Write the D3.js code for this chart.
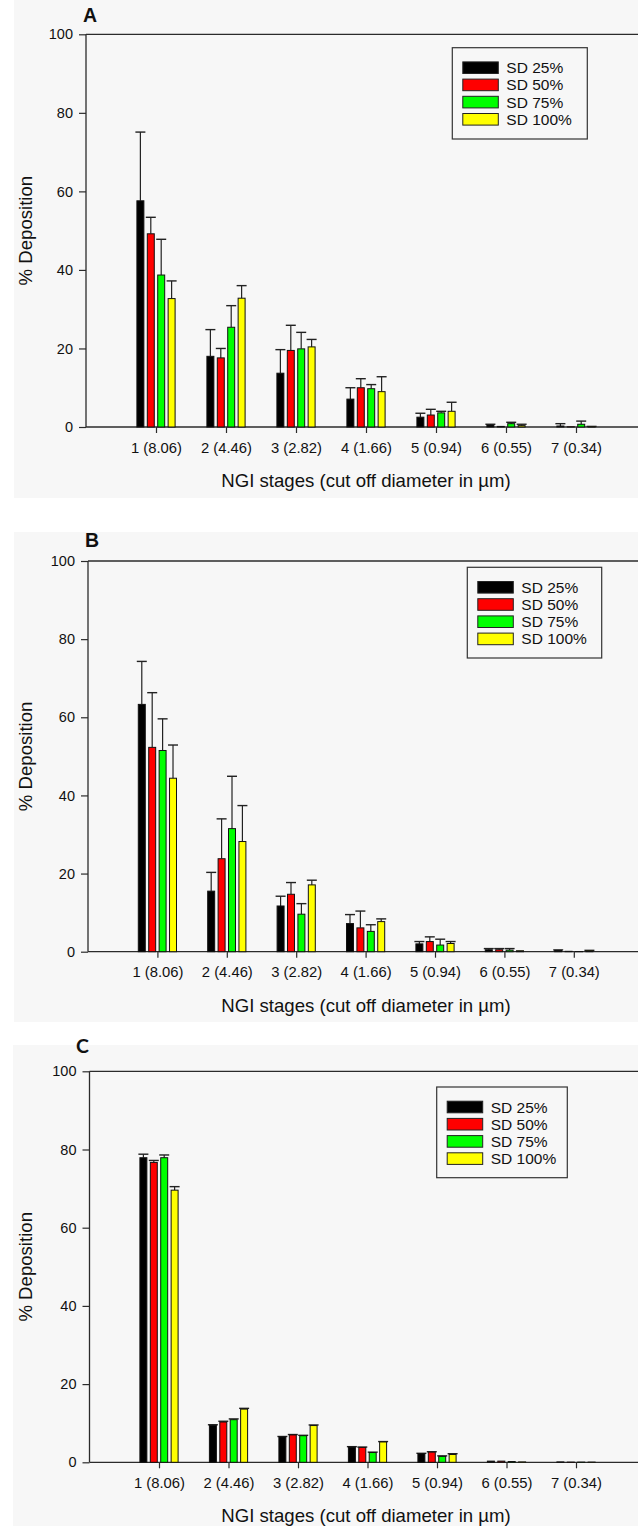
<!DOCTYPE html>
<html>
<head>
<meta charset="utf-8">
<script src="https://cdn.jsdelivr.net/npm/d3@7"></script>
<style>
  html, body { margin: 0; padding: 0; background: #ffffff; }
  svg { display: block; }
</style>
</head>
<body>
<svg id="chart" width="638" height="1526"></svg>
<script>
// ---------- DATA ----------
const stages = ["1 (8.06)", "2 (4.46)", "3 (2.82)", "4 (1.66)", "5 (0.94)", "6 (0.55)", "7 (0.34)"];
const seriesNames = ["SD 25%", "SD 50%", "SD 75%", "SD 100%"];
const seriesColors = ["#000000", "#ff0000", "#00ff00", "#ffff00"];
const yTicks = [0, 20, 40, 60, 80, 100];
const panelLetters = ["A", "B", "C"];
const xTitle = "NGI stages (cut off diameter in µm)";
const yTitle = "% Deposition";

// Panel A: means per series (SD 25, 50, 75, 100) and upper error (SD)
const meansA_sd25  = [57.6, 18.0, 13.7, 7.1, 2.5, 0.5, 0.25];
const meansA_sd50  = [49.2, 17.6, 19.5, 10.0, 3.05, 0.15, 0.05];
const meansA_sd75  = [38.7, 25.4, 19.9, 9.75, 3.6, 0.85, 0.7];
const meansA_sd100 = [32.7, 32.8, 20.4, 9.0, 4.0, 0.35, 0.1];
const errA_sd25  = [17.5, 6.8, 6.0, 2.9, 1.0, 0.2, 0.6];
const errA_sd50  = [4.2, 2.4, 6.4, 2.3, 1.45, 0, 0];
const errA_sd75  = [9.1, 5.5, 4.2, 1.05, 0.4, 0.35, 0.8];
const errA_sd100 = [4.5, 3.2, 1.9, 3.8, 2.3, 0.35, 0.05];

// Panel B
const meansB_sd25  = [63.3, 15.5, 11.7, 7.2, 2.0, 0.5, 0.35];
const meansB_sd50  = [52.3, 23.8, 14.7, 6.1, 2.6, 0.5, 0.1];
const meansB_sd75  = [51.5, 31.5, 9.6, 5.2, 1.7, 0.4, 0.05];
const meansB_sd100 = [44.4, 28.2, 17.1, 7.7, 2.1, 0.25, 0.25];
const errB_sd25  = [11.0, 4.8, 2.5, 2.3, 0.6, 0.3, 0.1];
const errB_sd50  = [14.0, 10.2, 3.0, 4.3, 1.2, 0.3, 0];
const errB_sd75  = [8.1, 13.4, 2.7, 1.7, 1.5, 0.4, 0];
const errB_sd100 = [8.5, 9.2, 1.2, 0.7, 0.5, 0, 0.1];

// Panel C
const meansC_sd25  = [77.9, 9.5, 6.5, 3.9, 2.2, 0.3, 0.1];
const meansC_sd50  = [76.7, 10.3, 7.0, 3.8, 2.6, 0.3, 0.05];
const meansC_sd75  = [77.9, 10.9, 6.8, 2.5, 1.5, 0.2, 0.05];
const meansC_sd100 = [69.6, 13.6, 9.4, 5.2, 2.0, 0.1, 0.05];
const errC_sd25  = [0.9, 0.1, 0.1, 0.1, 0.1, 0, 0];
const errC_sd50  = [0.5, 0.2, 0.1, 0.1, 0.1, 0, 0];
const errC_sd75  = [0.7, 0.2, 0.1, 0.1, 0.15, 0, 0];
const errC_sd100 = [0.9, 0.2, 0.15, 0.1, 0.2, 0, 0];

// ---------- LAYOUT ----------
const panels = [
  { letter: panelLetters[0], means: [meansA_sd25, meansA_sd50, meansA_sd75, meansA_sd100],
    errs: [errA_sd25, errA_sd50, errA_sd75, errA_sd100],
    bg: [14, 0, 624, 498], left: 86, unit: 70, yTop: 34.3, yBot: 427,
    letterPos: [83, 22], letterFont: "Liberation Sans, Arial, sans-serif",
    legend: [452.3, 47.7, 135, 91.3] },
  { letter: panelLetters[1], means: [meansB_sd25, meansB_sd50, meansB_sd75, meansB_sd100],
    errs: [errB_sd25, errB_sd50, errB_sd75, errB_sd100],
    bg: [14, 532, 624, 490], left: 88, unit: 69.4, yTop: 561, yBot: 951.7,
    letterPos: [85, 547], letterFont: "Liberation Sans, Arial, sans-serif",
    legend: [467.3, 567.3, 134.4, 90.7] },
  { letter: panelLetters[2], means: [meansC_sd25, meansC_sd50, meansC_sd75, meansC_sd100],
    errs: [errC_sd25, errC_sd50, errC_sd75, errC_sd100],
    bg: [13, 1045, 625, 481], left: 89.5, unit: 69.5, yTop: 1071.3, yBot: 1462.3,
    letterPos: [76, 1053], letterFont: "Lato, 'Open Sans', sans-serif",
    legend: [436.7, 1087, 130.6, 90.7] }
];

const svg = d3.select("#chart");
const FONT = "Liberation Sans, Arial, sans-serif";
const axisColor = "#2b2b2b";

panels.forEach(p => {
  const g = svg.append("g");

  // light panel background
  g.append("rect")
    .attr("x", p.bg[0]).attr("y", p.bg[1])
    .attr("width", p.bg[2]).attr("height", p.bg[3])
    .attr("fill", "#f7f7f7");

  const x = d3.scaleLinear().domain([0, 1]).range([p.left, p.left + p.unit]);
  const y = d3.scaleLinear().domain([0, 100]).range([p.yBot, p.yTop]);
  const sub = d3.scaleBand().domain(seriesNames).range([-19.1, 19.1]).paddingInner(0.33);
  const rightEdge = 638;

  // y axis
  const yAxis = d3.axisLeft(y).tickValues(yTicks).tickSize(7).tickPadding(6);
  const ya = g.append("g").attr("transform", `translate(${p.left},0)`).call(yAxis);
  ya.select(".domain").attr("stroke", axisColor).attr("stroke-width", 1.3).attr("d", `M-0,${p.yBot}V${p.yTop}`);
  ya.selectAll(".tick line").attr("stroke", axisColor).attr("stroke-width", 1.2);
  ya.selectAll(".tick text").attr("font-family", FONT).attr("font-size", 14.5).attr("fill", "#111");

  // x axis (category ticks at stage positions 1..7)
  const xAxis = d3.axisBottom(x).tickValues(d3.range(1, stages.length + 1))
    .tickFormat(d => stages[d - 1]).tickSize(6).tickPadding(9);
  const xa = g.append("g").attr("transform", `translate(0,${p.yBot})`).call(xAxis);
  xa.select(".domain").attr("stroke", axisColor).attr("stroke-width", 1.3)
    .attr("d", `M${p.left},0H${rightEdge}`);
  xa.selectAll(".tick line").attr("stroke", axisColor).attr("stroke-width", 1.2);
  xa.selectAll(".tick text").attr("font-family", FONT).attr("font-size", 14.8).attr("fill", "#111");

  // top frame line
  g.append("line")
    .attr("x1", p.left).attr("x2", rightEdge)
    .attr("y1", y(100)).attr("y2", y(100))
    .attr("stroke", axisColor).attr("stroke-width", 1.3);

  // bars + error bars
  seriesNames.forEach((s, si) => {
    const data = stages.map((st, i) => ({ i: i + 1, v: p.means[si][i], e: p.errs[si][i] }));
    const gs = g.append("g");
    const cx = d => x(d.i) + sub(s) + sub.bandwidth() / 2;

    // error bars (upper only)
    gs.selectAll("line.err").data(data.filter(d => d.e > 0)).enter().append("line")
      .attr("x1", cx).attr("x2", cx)
      .attr("y1", d => y(d.v)).attr("y2", d => y(d.v + d.e))
      .attr("stroke", "#222").attr("stroke-width", 1.2);
    gs.selectAll("line.cap").data(data.filter(d => d.e > 0)).enter().append("line")
      .attr("x1", d => cx(d) - 5).attr("x2", d => cx(d) + 5)
      .attr("y1", d => y(d.v + d.e)).attr("y2", d => y(d.v + d.e))
      .attr("stroke", "#222").attr("stroke-width", 1.4);

    gs.selectAll("rect").data(data).enter().append("rect")
      .attr("x", d => x(d.i) + sub(s))
      .attr("width", sub.bandwidth())
      .attr("y", d => y(d.v))
      .attr("height", d => y(0) - y(d.v))
      .attr("fill", seriesColors[si])
      .attr("stroke", "#111").attr("stroke-width", 1);
  });

  // axis titles
  g.append("text")
    .attr("x", 366).attr("y", p.yBot + 60)
    .attr("text-anchor", "middle")
    .attr("font-family", FONT).attr("font-size", 18.6).attr("fill", "#111")
    .text(xTitle);

  g.append("text")
    .attr("transform", `translate(${32},${(p.yTop + p.yBot) / 2}) rotate(-90)`)
    .attr("text-anchor", "middle")
    .attr("font-family", FONT).attr("font-size", 18.6).attr("fill", "#111")
    .text(yTitle);

  // panel letter
  g.append("text")
    .attr("x", p.letterPos[0]).attr("y", p.letterPos[1])
    .attr("font-family", p.letterFont).attr("font-weight", "bold")
    .attr("font-size", 19.5).attr("fill", "#111")
    .text(p.letter);

  // legend
  const [lx, ly, lw, lh] = p.legend;
  const lg = g.append("g").attr("transform", `translate(${lx},${ly})`);
  lg.append("rect").attr("width", lw).attr("height", lh)
    .attr("fill", "#f7f7f7").attr("stroke", "#333").attr("stroke-width", 1.2);
  const rows = d3.scalePoint().domain(seriesNames).range([20, 71.6]);
  seriesNames.forEach((s, si) => {
    lg.append("rect")
      .attr("x", 10.5).attr("y", rows(s) - 5.8)
      .attr("width", 35.5).attr("height", 11.6)
      .attr("fill", seriesColors[si]).attr("stroke", "#222").attr("stroke-width", 1);
    lg.append("text")
      .attr("x", 54).attr("y", rows(s) + 5.5)
      .attr("font-family", FONT).attr("font-size", 15.5).attr("fill", "#111")
      .text(s);
  });
});
</script>
</body>
</html>
